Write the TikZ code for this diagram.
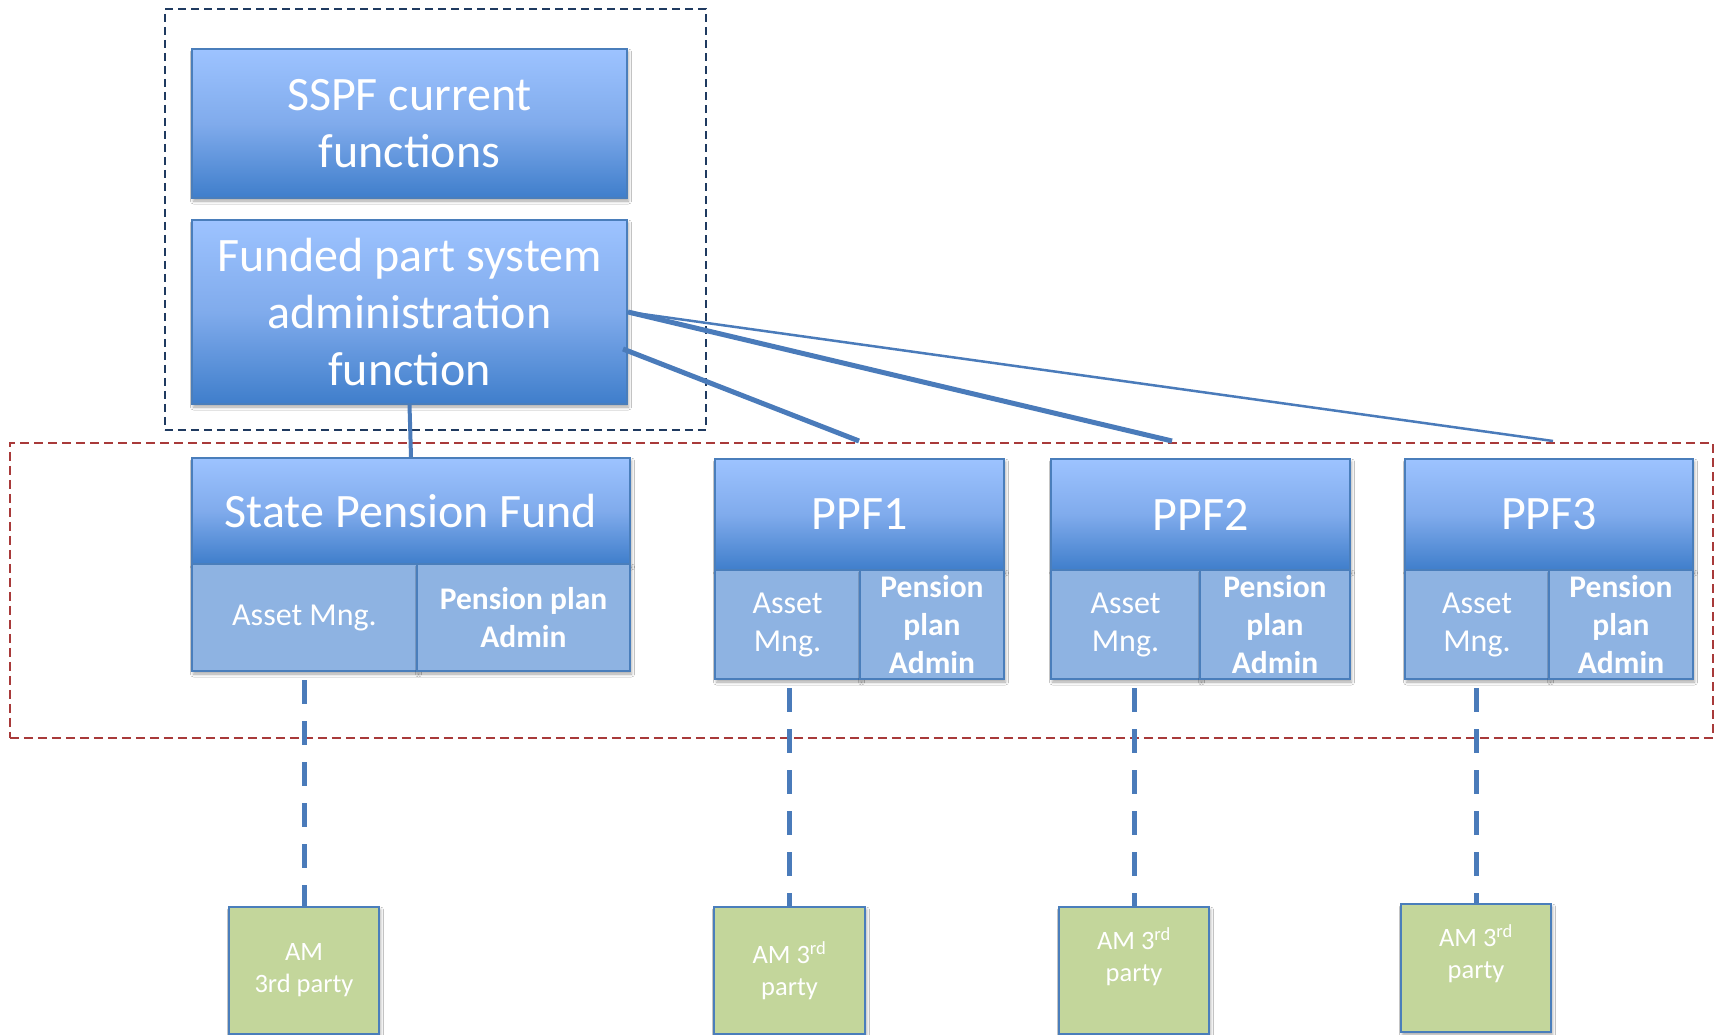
\documentclass[tikz,border=0pt]{standalone}
\usepackage{fontspec}
\setmainfont{Carlito}
\usetikzlibrary{shadows.blur}

\definecolor{hdrTop}{HTML}{9DC3FF}
\definecolor{hdrMid}{HTML}{80ABEC}
\definecolor{hdrBot}{HTML}{3F7ECB}
\definecolor{edge}{HTML}{4A7EBB}
\definecolor{subFill}{HTML}{8EB3E2}
\definecolor{amFill}{HTML}{C3D69B}
\definecolor{navyDash}{HTML}{1F3A60}
\definecolor{redDash}{HTML}{A83A3A}
\definecolor{linkBlue}{HTML}{4A7BBA}

\begin{document}
\begin{tikzpicture}[x=1pt,y=-1pt,
  boxshadow/.style={blur shadow={shadow xshift=1.5pt, shadow yshift=-3pt,
      shadow blur radius=3pt, shadow opacity=35}},
  hdr/.style={draw=edge, line width=2pt, top color=hdrTop, bottom color=hdrBot,
      middle color=hdrMid, text=white, inner sep=0pt, anchor=north west,
      align=center, font=\fontsize{48}{57}\selectfont, boxshadow},
  subbox/.style={draw=edge, line width=2pt, fill=subFill, text=white, inner sep=0pt,
      anchor=north west, align=center, font=\fontsize{32}{38}\selectfont, boxshadow},
  subbold/.style={subbox, font=\fontsize{31.5}{38}\selectfont\bfseries},
  ambox/.style={draw=edge, line width=2pt, fill=amFill, text=white, inner sep=0pt,
      anchor=north west, align=center, font=\fontsize{26.5}{32}\selectfont, boxshadow},
  amtext/.style={text=white, align=center, font=\fontsize{26.5}{32}\selectfont},
  frameblue/.style={draw=navyDash, line width=1.8pt, dash pattern=on 8pt off 5pt},
  framered/.style={draw=redDash, line width=1.8pt, dash pattern=on 9pt off 5pt},
  thicklink/.style={draw=linkBlue, line width=5pt},
  thinlink/.style={draw=linkBlue, line width=2.5pt},
  amlink/.style={draw=linkBlue, line width=5pt, dash pattern=on 24pt off 17pt}
]
% page
\fill[white] (0,0) rectangle (1715,1035);
\useasboundingbox (0,0) rectangle (1715,1035);

% dashed frames
\node[frameblue, anchor=north west, minimum width=541pt, minimum height=421pt, inner sep=0pt] (ssframe) at (164,8) {};
\node[framered, anchor=north west, minimum width=1703pt, minimum height=295pt, inner sep=0pt] (fundframe) at (9,442) {};

% SSPF functions
\node[hdr, minimum width=435pt, minimum height=149pt] (sspf) at (191,48) {SSPF current\\functions};
\node[hdr, minimum width=435pt, minimum height=184pt] (funded) at (191,219) {Funded part system\\administration\\function};

% State Pension Fund
\node[hdr, minimum width=438pt, minimum height=106pt] (spf) at (191,457) {State Pension Fund};
\node[subbox, minimum width=225pt, minimum height=107pt] (am0) at (191,563) {Asset Mng.};
\node[subbold, minimum width=213pt, minimum height=107pt] (pa0) at (416,563) {Pension plan\\Admin};

% private pension funds
\node[hdr, minimum width=289pt, minimum height=111pt] (ppf1) at (714,458) {PPF1};
\node[subbox, minimum width=145pt, minimum height=109pt] (am1) at (714,569) {Asset\\Mng.};
\node[subbold, minimum width=144pt, minimum height=109pt] (pa1) at (859,569) {Pension\\plan\\Admin};

\node[hdr, minimum width=299pt, minimum height=111pt] (ppf2) at (1050,458) {PPF2};
\node[subbox, minimum width=149pt, minimum height=109pt] (am2) at (1050,569) {Asset\\Mng.};
\node[subbold, minimum width=150pt, minimum height=109pt] (pa2) at (1199,569) {Pension\\plan\\Admin};

\node[hdr, minimum width=288pt, minimum height=111pt] (ppf3) at (1404,458) {PPF3};
\node[subbox, minimum width=144pt, minimum height=109pt] (am3) at (1404,569) {Asset\\Mng.};
\node[subbold, minimum width=144pt, minimum height=109pt] (pa3) at (1548,569) {Pension\\plan\\Admin};

% third-party asset managers
\node[ambox, minimum width=150pt, minimum height=127pt] (g0) at (228,906) {AM\\3rd party};
\node[ambox, minimum width=151pt, minimum height=127pt] (g1) at (713,906) {AM 3\textsuperscript{rd}\\party};
\node[ambox, minimum width=150pt, minimum height=127pt] (g2) at (1058,906) {};
\node[amtext] (t2) at ([yshift=14pt]g2.center) {AM 3\textsuperscript{rd}\\party};
\node[ambox, minimum width=150pt, minimum height=128pt] (g3) at (1400,903) {};
\node[amtext] (t3) at ([yshift=14pt]g3.center) {AM 3\textsuperscript{rd}\\party};

% links from the administration function
\coordinate (e1) at (859,441);
\coordinate (e2) at (1172,441);
\coordinate (e3) at (1553,441);
\draw[draw=linkBlue, line width=4pt] (funded.south) -- (spf.north);
\draw[thicklink] ([shift={(-5,37)}]funded.east) -- (e1);
\draw[thicklink] (funded.east) -- (e2);
\draw[thinlink] (funded.east) -- (e3);

% links to asset managers
\draw[amlink] ([yshift=-8pt]am0.south -| g0.north) -- (g0.north);
\draw[amlink] ([yshift=-8pt]am1.south -| g1.north) -- (g1.north);
\draw[amlink] ([yshift=-8pt]am2.south -| g2.north) -- (g2.north);
\draw[amlink] ([yshift=-8pt]am3.south -| g3.north) -- (g3.north);
\end{tikzpicture}
\end{document}
